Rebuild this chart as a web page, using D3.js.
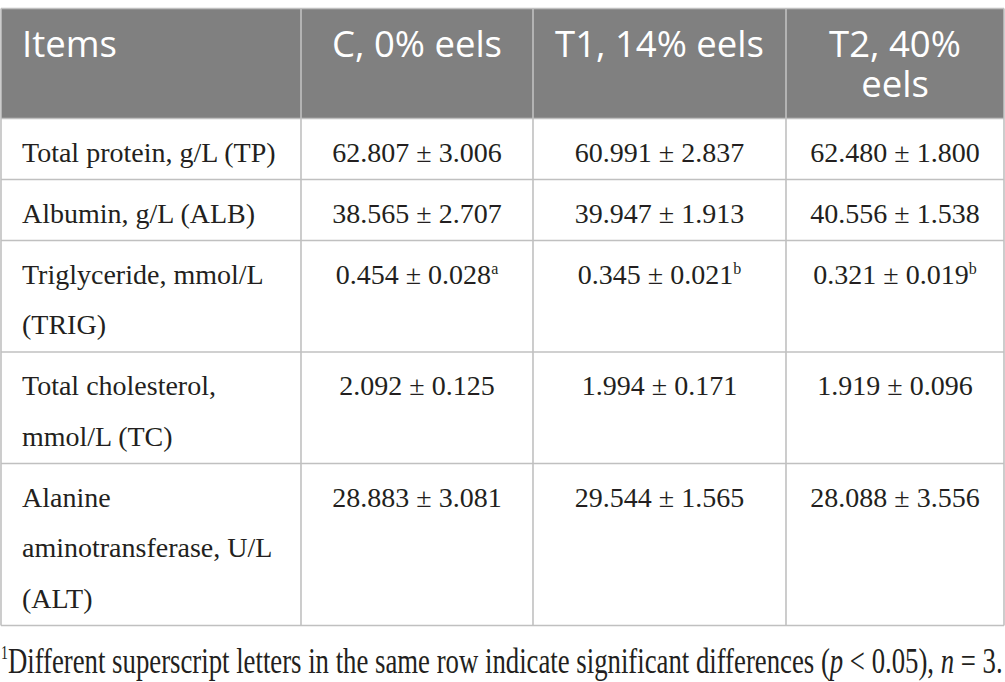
<!DOCTYPE html>
<html>
<head>
<meta charset="utf-8">
<script src="https://cdn.jsdelivr.net/npm/d3@7"></script>
<style>
  html, body { margin: 0; padding: 0; background: #fff; }
  svg { display: block; }
</style>
</head>
<body>
<svg id="table" width="1005" height="682"></svg>
<script>
// Table content
const headers = [["Items"], ["C, 0% eels"], ["T1, 14% eels"], ["T2, 40%", "eels"]];
const items = [
  ["Total protein, g/L (TP)"],
  ["Albumin, g/L (ALB)"],
  ["Triglyceride, mmol/L", "(TRIG)"],
  ["Total cholesterol,", "mmol/L (TC)"],
  ["Alanine", "aminotransferase, U/L", "(ALT)"]
];
const meanC  = [62.807, 38.565, 0.454, 2.092, 28.883];
const sdC    = [3.006, 2.707, 0.028, 0.125, 3.081];
const meanT1 = [60.991, 39.947, 0.345, 1.994, 29.544];
const sdT1   = [2.837, 1.913, 0.021, 0.171, 1.565];
const meanT2 = [62.480, 40.556, 0.321, 1.919, 28.088];
const sdT2   = [1.800, 1.538, 0.019, 0.096, 3.556];
const letterC  = ["", "", "a", "", ""];
const letterT1 = ["", "", "b", "", ""];
const letterT2 = ["", "", "b", "", ""];

// layout
const svg = d3.select("#table");
const tableTop = 8.5;
const headerH = 110;
const colWidths = [300, 232, 253, 218];
const tableLeft = 1;
const padLeft = 21;
const rowPad = 10.5, lineStep = 50.5;
const firstBase = 43;
const fmt = d3.format(".3f");

const colEdges = [tableLeft, ...d3.cumsum(colWidths).map(d => d + tableLeft)];
const rowHeights = items.map(d => rowPad + lineStep * d.length);
const rowEdges = [tableTop + headerH, ...d3.cumsum(rowHeights).map(d => d + tableTop + headerH)];
const tableRight = colEdges[colEdges.length - 1];
const tableBottom = rowEdges[rowEdges.length - 1];

const groups = [
  { mean: meanC, sd: sdC, letter: letterC },
  { mean: meanT1, sd: sdT1, letter: letterT1 },
  { mean: meanT2, sd: sdT2, letter: letterT2 }
];

// header background
svg.append("rect")
  .attr("x", tableLeft)
  .attr("y", tableTop)
  .attr("width", tableRight - tableLeft)
  .attr("height", headerH)
  .attr("fill", "#808080");

// header text
svg.append("g").selectAll("text")
  .data(headers)
  .enter()
  .append("text")
  .attr("font-family", "'Open Sans', sans-serif")
  .attr("font-size", 36.5)
  .attr("fill", "#ffffff")
  .attr("text-anchor", (d, i) => i === 0 ? "start" : "middle")
  .attr("x", (d, i) => i === 0 ? colEdges[0] + padLeft : (colEdges[i] + colEdges[i + 1]) / 2)
  .attr("y", tableTop + 48)
  .each(function (lines, i) {
    const x = d3.select(this).attr("x");
    d3.select(this).selectAll("tspan")
      .data(lines)
      .enter()
      .append("tspan")
      .attr("x", x)
      .attr("dy", (d, j) => j === 0 ? 0 : 40)
      .text(d => d);
  });

// item labels
const body = svg.append("g")
  .attr("font-family", "'Liberation Serif', 'Times New Roman', serif")
  .attr("font-size", 28)
  .attr("fill", "#231f20");

body.selectAll(".item")
  .data(items)
  .enter()
  .append("text")
  .classed("item", true)
  .attr("x", colEdges[0] + padLeft)
  .attr("y", (d, i) => rowEdges[i] + firstBase)
  .each(function (lines) {
    d3.select(this).selectAll("tspan")
      .data(lines)
      .enter()
      .append("tspan")
      .attr("x", colEdges[0] + padLeft)
      .attr("dy", (d, j) => j === 0 ? 0 : lineStep)
      .text(d => d);
  });

// values
groups.forEach((g, gi) => {
  const cx = (colEdges[gi + 1] + colEdges[gi + 2]) / 2;
  const t = body.selectAll(".val" + gi)
    .data(g.mean.map((m, i) => ({ m: m, sd: g.sd[i], letter: g.letter[i] })))
    .enter()
    .append("text")
    .classed("val" + gi, true)
    .attr("text-anchor", "middle")
    .attr("x", cx)
    .attr("y", (d, i) => rowEdges[i] + firstBase);
  t.append("tspan").text(d => fmt(d.m) + " \u00b1 " + fmt(d.sd));
  t.filter(d => d.letter !== "")
    .append("tspan")
    .attr("font-size", 16)
    .attr("dy", -10)
    .text(d => d.letter);
});

// grid lines
const grid = svg.append("g")
  .attr("stroke", "#c0c0c0")
  .attr("stroke-width", 1.6);

grid.selectAll(".hline")
  .data([tableTop, ...rowEdges])
  .enter()
  .append("line")
  .attr("x1", tableLeft)
  .attr("x2", tableRight)
  .attr("y1", d => d)
  .attr("y2", d => d);

grid.selectAll(".vline")
  .data(colEdges)
  .enter()
  .append("line")
  .attr("x1", d => d)
  .attr("x2", d => d)
  .attr("y1", tableTop)
  .attr("y2", tableBottom);

// footnote, squeezed horizontally to span the table width
const noteG = svg.append("g");
const note = noteG.append("text")
  .attr("font-family", "'Liberation Serif', 'Times New Roman', serif")
  .attr("font-size", 35)
  .attr("fill", "#231f20")
  .attr("x", 0)
  .attr("y", 0);
note.append("tspan").attr("font-size", 18).attr("dy", -14).text("1");
note.append("tspan").attr("dy", 14).text("Different superscript letters in the same row indicate significant differences (");
note.append("tspan").attr("font-style", "italic").text("p");
note.append("tspan").text(" < 0.05), ");
note.append("tspan").attr("font-style", "italic").text("n");
note.append("tspan").text(" = 3.");
const noteW = note.node().getBBox().width;
noteG.attr("transform", `translate(1, 673) scale(${1002 / noteW}, 1)`);
</script>
</body>
</html>
